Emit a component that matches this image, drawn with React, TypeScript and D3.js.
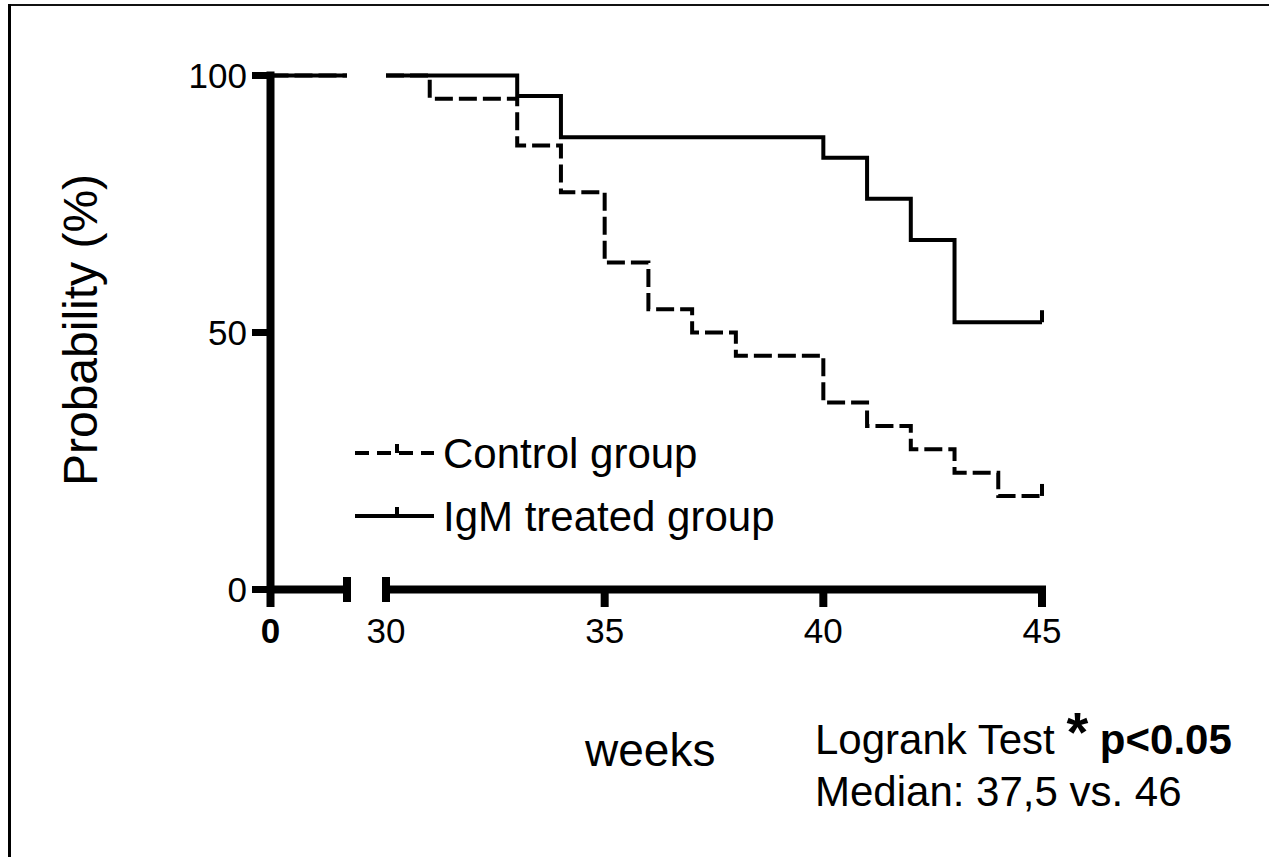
import React from "react";
import * as d3 from "d3";

// survival data (weeks, % surviving)
const controlWeeks = [0, 31, 33, 34, 35, 36, 37, 38, 40, 41, 42, 43, 44, 45];
const controlSurvival = [100, 95.5, 86.4, 77.3, 63.6, 54.5, 50, 45.5, 36.4, 31.8, 27.3, 22.7, 18.2, 18.2];
const igmWeeks = [0, 33, 34, 40, 41, 42, 43, 45];
const igmSurvival = [100, 96, 88, 84, 76, 68, 52, 52];

const seriesNames = ["Control group", "IgM treated group"];
const yTicks = [0, 50, 100];
const xTicksLeft = [0];
const xTicksRight = [30, 35, 40, 45];
const leftSegment = [0, 2];
const rightSegment = [30, 45];

const W = 1269;
const H = 857;
const FONT = "'Liberation Sans', Arial, Helvetica, sans-serif";
const DASH = "18,6";

const y = d3.scaleLinear().domain([0, 100]).range([589.5, 75.5]);
const xLeft = d3.scaleLinear().domain(leftSegment).range([270.5, 347]);
const xRight = d3.scaleLinear().domain(rightSegment).range([386, 1042]);

const stepLeft = d3
  .line<[number, number]>()
  .x((d) => xLeft(d[0]))
  .y((d) => y(d[1]))
  .curve(d3.curveStepAfter);

const stepRight = d3
  .line<[number, number]>()
  .x((d) => xRight(d[0]))
  .y((d) => y(d[1]))
  .curve(d3.curveStepAfter);

function splitSeries(weeks: number[], vals: number[]) {
  const pts: [number, number][] = weeks.map((w, i) => [w, vals[i]]);
  const before = pts.filter((p) => p[0] <= rightSegment[0]);
  const startVal = before[before.length - 1][1];
  const left: [number, number][] = [
    [leftSegment[0], vals[0]],
    [leftSegment[1], vals[0]],
  ];
  const right: [number, number][] = [
    [rightSegment[0], startVal],
    ...pts.filter((p) => p[0] > rightSegment[0]),
  ];
  return { left, right, last: pts[pts.length - 1] };
}

const Curve = ({ weeks, vals, dash }: { weeks: number[]; vals: number[]; dash?: string }) => {
  const s = splitSeries(weeks, vals);
  return (
    <g fill="none" stroke="#000" strokeWidth={4} strokeDasharray={dash}>
      <path d={stepLeft(s.left) || ""} />
      <path d={stepRight(s.right) || ""} />
      {/* censor mark at the last time point */}
      <line
        x1={xRight(s.last[0])}
        x2={xRight(s.last[0])}
        y1={y(s.last[1])}
        y2={y(s.last[1]) - 12}
        strokeDasharray="none"
      />
    </g>
  );
};

export default function App() {
  const axisY = y(0);
  const axisX = xLeft(0);
  return (
    <svg
      width={W}
      height={H}
      style={{ position: "absolute", left: 0, top: 0, display: "block", background: "#fff" }}
      fontFamily={FONT}
    >
      <rect width={W} height={H} fill="#fff" />
      {/* frame */}
      <line x1={9} x2={W} y1={5} y2={5} stroke="#111" strokeWidth={2} />
      <line x1={9.5} x2={9.5} y1={4} y2={H} stroke="#000" strokeWidth={3} />

      {/* curves */}
      <Curve weeks={controlWeeks} vals={controlSurvival} dash={DASH} />
      <Curve weeks={igmWeeks} vals={igmSurvival} />

      {/* y axis */}
      <line x1={axisX} x2={axisX} y1={y(100) - 4} y2={607} stroke="#000" strokeWidth={8} />
      {yTicks.map((t) => (
        <g key={t}>
          <line x1={252} x2={axisX} y1={y(t)} y2={y(t)} stroke="#000" strokeWidth={7} />
          <text x={247} y={y(t)} dy="0.36em" textAnchor="end" fontSize={35}>
            {t}
          </text>
        </g>
      ))}

      {/* x axis, broken */}
      <line x1={axisX} x2={xLeft(leftSegment[1])} y1={axisY} y2={axisY} stroke="#000" strokeWidth={8} />
      <line x1={xLeft(leftSegment[1])} x2={xLeft(leftSegment[1])} y1={577} y2={602} stroke="#000" strokeWidth={8} />
      <line x1={xRight(rightSegment[0])} x2={xRight(rightSegment[1]) + 4} y1={axisY} y2={axisY} stroke="#000" strokeWidth={8} />
      <line x1={xRight(rightSegment[0])} x2={xRight(rightSegment[0])} y1={577} y2={602} stroke="#000" strokeWidth={8} />
      {xTicksRight.slice(1).map((t) => (
        <line key={t} x1={xRight(t)} x2={xRight(t)} y1={axisY} y2={607} stroke="#000" strokeWidth={8} />
      ))}
      {xTicksLeft.map((t) => (
        <text key={t} x={xLeft(t)} y={643} textAnchor="middle" fontSize={35} fontWeight="bold">
          {t}
        </text>
      ))}
      {xTicksRight.map((t) => (
        <text key={t} x={xRight(t)} y={643} textAnchor="middle" fontSize={35}>
          {t}
        </text>
      ))}

      {/* y label */}
      <text transform={`translate(97, 330) rotate(-90)`} textAnchor="middle" fontSize={48}>
        Probability (%)
      </text>

      {/* legend */}
      {seriesNames.map((name, i) => {
        const ly = 453 + i * 63;
        return (
          <g key={name}>
            <line
              x1={355}
              x2={434}
              y1={ly}
              y2={ly}
              stroke="#000"
              strokeWidth={4}
              strokeDasharray={i === 0 ? "14,8" : undefined}
            />
            <line x1={397} x2={397} y1={ly} y2={ly - 9} stroke="#000" strokeWidth={4} />
            <text x={443} y={ly + 15} fontSize={42}>
              {name}
            </text>
          </g>
        );
      })}

      {/* annotations */}
      <text x={585} y={766} fontSize={46}>
        weeks
      </text>
      <text x={815} y={754} fontSize={42}>
        Logrank Test{" "}
        <tspan fontWeight="bold" fontSize={56} dy={-3}>
          *
        </tspan>
        <tspan fontWeight="bold" dy={3}>
          {" "}p&lt;0.05
        </tspan>
      </text>
      <text x={815} y={806} fontSize={42}>
        Median: 37,5 vs. 46
      </text>
    </svg>
  );
}
